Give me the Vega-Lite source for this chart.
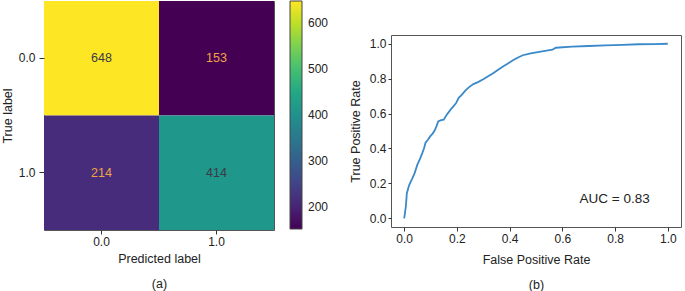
{
  "$schema": "https://vega.github.io/schema/vega-lite/v6.json",
  "padding": {"left": 0, "top": 0, "right": 5, "bottom": 0},
  "spacing": 18,
  "resolve": {"legend": {"color": "independent"}, "scale": {"color": "independent"}},
  "config": {
    "font": "Liberation Sans",
    "view": {"stroke": "#555", "strokeWidth": 1},
    "axis": {
      "grid": false,
      "domain": false,
      "labelFontSize": 12,
      "titleFontSize": 12.5,
      "titleFontWeight": "normal",
      "labelColor": "#222",
      "titleColor": "#222",
      "tickColor": "#333",
      "titleLineHeight": 25,
      "labelOverlap": false
    }
  },
  "hconcat": [
    {
      "width": 230,
      "height": 229,
      "data": {
        "values": [
          {"true_label": "0.0", "predicted": "0.0", "count": 648},
          {"true_label": "0.0", "predicted": "1.0", "count": 153},
          {"true_label": "1.0", "predicted": "0.0", "count": 214},
          {"true_label": "1.0", "predicted": "1.0", "count": 414}
        ]
      },
      "encoding": {
        "x": {
          "field": "predicted",
          "type": "ordinal",
          "title": ["Predicted label", "(a)"],
          "scale": {"paddingInner": 0, "paddingOuter": 0},
          "axis": {"labelAngle": 0, "tickSize": 4, "labelPadding": 2, "titlePadding": 5}
        },
        "y": {
          "field": "true_label",
          "type": "ordinal",
          "title": "True label",
          "scale": {"paddingInner": 0, "paddingOuter": 0},
          "axis": {"tickSize": 5, "labelPadding": 4, "titlePadding": 4}
        }
      },
      "layer": [
        {
          "mark": {"type": "rect"},
          "encoding": {
            "color": {
              "field": "count",
              "type": "quantitative",
              "scale": {"scheme": "viridis", "domain": [153, 648]},
              "legend": {
                "title": null,
                "values": [200, 300, 400, 500, 600],
                "gradientLength": 228,
                "gradientThickness": 12,
                "gradientStrokeColor": "#444",
                "gradientStrokeWidth": 1,
                "labelFontSize": 12,
                "labelColor": "#222",
                "labelOffset": 6,
                "offset": 16,
                "padding": 0,
                "direction": "vertical",
                "orient": "right"
              }
            }
          }
        },
        {
          "mark": {"type": "text", "fontSize": 12.5},
          "encoding": {
            "text": {"field": "count", "type": "quantitative"},
            "color": {
              "condition": {"test": "datum.count > 400", "value": "#3a3a48"},
              "value": "#f0a444"
            }
          }
        }
      ]
    },
    {
      "spacing": 0,
      "vconcat": [
        {
          "width": 290,
          "height": 33,
          "view": {"stroke": null},
          "data": {"values": [{"note": ""}]},
          "mark": {"type": "text"},
          "encoding": {"text": {"field": "note"}}
        },
        {
          "width": 290,
          "height": 192,
          "layer": [
            {
              "data": {
                "values": [
                  {"fpr": 0.0, "tpr": 0.0},
                  {"fpr": 0.003, "tpr": 0.03},
                  {"fpr": 0.006, "tpr": 0.064},
                  {"fpr": 0.008, "tpr": 0.1},
                  {"fpr": 0.01, "tpr": 0.142},
                  {"fpr": 0.015, "tpr": 0.17},
                  {"fpr": 0.019, "tpr": 0.19},
                  {"fpr": 0.025, "tpr": 0.21},
                  {"fpr": 0.031, "tpr": 0.229},
                  {"fpr": 0.04, "tpr": 0.26},
                  {"fpr": 0.05, "tpr": 0.307},
                  {"fpr": 0.06, "tpr": 0.34},
                  {"fpr": 0.069, "tpr": 0.375},
                  {"fpr": 0.075, "tpr": 0.4},
                  {"fpr": 0.081, "tpr": 0.433},
                  {"fpr": 0.09, "tpr": 0.45},
                  {"fpr": 0.1, "tpr": 0.472},
                  {"fpr": 0.108, "tpr": 0.485},
                  {"fpr": 0.115, "tpr": 0.501},
                  {"fpr": 0.122, "tpr": 0.525},
                  {"fpr": 0.129, "tpr": 0.555},
                  {"fpr": 0.14, "tpr": 0.562},
                  {"fpr": 0.15, "tpr": 0.565},
                  {"fpr": 0.16, "tpr": 0.59},
                  {"fpr": 0.169, "tpr": 0.608},
                  {"fpr": 0.18, "tpr": 0.63},
                  {"fpr": 0.1875, "tpr": 0.643},
                  {"fpr": 0.197, "tpr": 0.66},
                  {"fpr": 0.206, "tpr": 0.689},
                  {"fpr": 0.22, "tpr": 0.71},
                  {"fpr": 0.231, "tpr": 0.73},
                  {"fpr": 0.245, "tpr": 0.75},
                  {"fpr": 0.2625, "tpr": 0.769},
                  {"fpr": 0.28, "tpr": 0.78},
                  {"fpr": 0.3, "tpr": 0.796},
                  {"fpr": 0.32, "tpr": 0.815},
                  {"fpr": 0.3375, "tpr": 0.831},
                  {"fpr": 0.355, "tpr": 0.85},
                  {"fpr": 0.375, "tpr": 0.87},
                  {"fpr": 0.395, "tpr": 0.888},
                  {"fpr": 0.4125, "tpr": 0.905},
                  {"fpr": 0.43, "tpr": 0.92},
                  {"fpr": 0.45, "tpr": 0.934},
                  {"fpr": 0.48, "tpr": 0.945},
                  {"fpr": 0.5125, "tpr": 0.953},
                  {"fpr": 0.54, "tpr": 0.96},
                  {"fpr": 0.5625, "tpr": 0.966},
                  {"fpr": 0.575, "tpr": 0.977},
                  {"fpr": 0.6375, "tpr": 0.983},
                  {"fpr": 0.7, "tpr": 0.987},
                  {"fpr": 0.7625, "tpr": 0.991},
                  {"fpr": 0.83, "tpr": 0.994},
                  {"fpr": 0.8875, "tpr": 0.997},
                  {"fpr": 0.95, "tpr": 0.998},
                  {"fpr": 1.0, "tpr": 1.0}
                ]
              },
              "mark": {"type": "line", "color": "#3a89c9", "strokeWidth": 1.8},
              "encoding": {
                "x": {
                  "field": "fpr",
                  "type": "quantitative",
                  "title": ["False Positive Rate", "\u2002\u2002(b)"],
                  "scale": {"domain": [-0.05, 1.05], "nice": false, "zero": false},
                  "axis": {"values": [0, 0.2, 0.4, 0.6, 0.8, 1.0], "tickCount": 10, "format": ".1f", "tickSize": 4, "labelPadding": 2, "titlePadding": 9}
                },
                "y": {
                  "field": "tpr",
                  "type": "quantitative",
                  "title": "True Positive Rate",
                  "scale": {"domain": [-0.05, 1.05], "nice": false, "zero": false},
                  "axis": {"values": [0, 0.2, 0.4, 0.6, 0.8, 1.0], "tickCount": 10, "format": ".1f", "tickSize": 3, "labelPadding": 2, "titlePadding": 7}
                }
              }
            },
            {
              "data": {"values": [{"fpr": 0.665, "tpr": 0.112, "label": "AUC = 0.83"}]},
              "mark": {"type": "text", "align": "left", "baseline": "middle", "fontSize": 13.5, "color": "#222"},
              "encoding": {
                "x": {"field": "fpr", "type": "quantitative"},
                "y": {"field": "tpr", "type": "quantitative"},
                "text": {"field": "label"}
              }
            }
          ]
        }
      ]
    }
  ]
}
